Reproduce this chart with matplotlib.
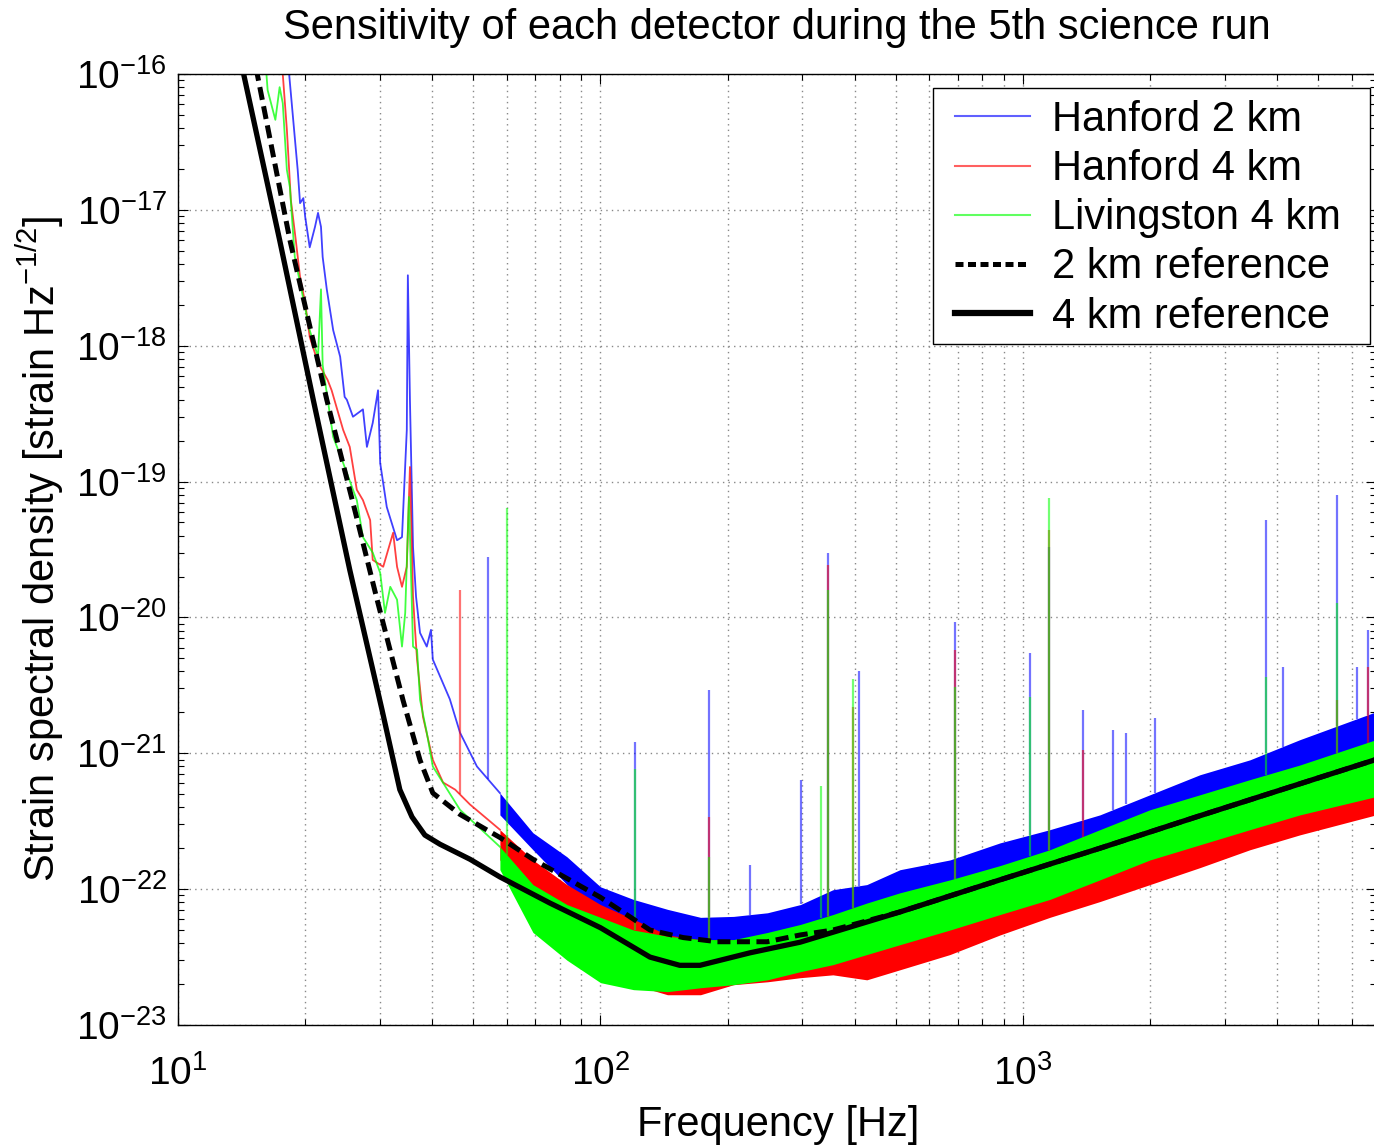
import numpy as np
import matplotlib.pyplot as plt
from matplotlib.lines import Line2D
from matplotlib.patches import Rectangle
from matplotlib.ticker import FixedLocator, LogLocator, NullFormatter

plt.rcParams['font.family'] = ['Liberation Sans', 'DejaVu Sans']
plt.rcParams['mathtext.fontset'] = 'custom'
plt.rcParams['mathtext.rm'] = 'Liberation Sans'
plt.rcParams['mathtext.it'] = 'Liberation Sans:italic'

## S5 strain sensitivity of the three LIGO detectors

# low frequency part of each spectrum (single trace)
h2_f = [18.2, 18.9, 19.2, 19.45, 19.8, 20.0, 20.5, 21.1, 21.45, 21.8, 22.0, 22.5, 23.3, 24.2, 24.8,
        25.1, 25.95, 27.4, 28.0, 28.9, 29.75, 30.1, 31.2, 33.0, 33.9, 34.8, 35.0, 35.4, 36.0, 36.6,
        37.4, 38.8, 39.7, 40.1, 44.0, 46.5, 51.0, 57.8]
h2_asd = [1.27e-16, 3.4e-17, 1.97e-17, 1.12e-17, 1.22e-17, 8.9e-18, 5.3e-18, 7.5e-18, 9.5e-18, 7.5e-18,
          4.5e-18, 2.6e-18, 1.3e-18, 8.3e-19, 4.2e-19, 4.0e-19, 3.0e-19, 3.4e-19, 1.8e-19, 2.7e-19,
          4.7e-19, 1.37e-19, 6.5e-20, 3.7e-20, 3.9e-20, 2.4e-19, 3.3e-18, 4.0e-19, 3.3e-20, 1.42e-20,
          7.7e-21, 6.1e-21, 8.1e-21, 4.9e-21, 2.5e-21, 1.42e-21, 8.0e-22, 5.1e-22]

h1_f = [17.6, 18.1, 18.5, 19.0, 19.45, 20.0, 20.5, 21.45, 22.6, 23.1, 24.6, 25.5, 26.5, 27.4, 28.5,
        28.9, 30.6, 32.3, 33.0, 33.9, 34.8, 35.4, 36.0, 36.4, 36.8, 38.0, 40.1, 42.4, 45.3, 49.1, 57.8]
h1_asd = [1.27e-16, 3.9e-17, 1.18e-17, 6.0e-18, 3.2e-18, 2.07e-18, 1.16e-18, 7.5e-19, 5.6e-19, 4.7e-19,
          2.4e-19, 1.8e-19, 8.7e-20, 7.3e-20, 5.2e-20, 2.65e-20, 2.36e-20, 4.2e-20, 2.36e-20, 1.68e-20,
          2.36e-20, 1.28e-19, 1.42e-20, 8.1e-21, 4.9e-21, 1.86e-21, 8.95e-22, 6.1e-22, 5.4e-22, 4.2e-22,
          2.74e-22]

l1_f = [16.1, 16.3, 17.0, 17.4, 17.7, 18.1, 18.4, 18.7, 18.9, 19.45, 20.5, 21.45, 21.8, 22.0, 23.3,
        24.6, 26.5, 27.4, 28.9, 30.1, 30.9, 31.8, 33.0, 33.9, 34.5, 35.2, 36.0, 36.8, 37.4, 38.8,
        40.1, 46.5, 57.8]
l1_asd = [1.27e-16, 7.6e-17, 4.6e-17, 8.0e-17, 6.1e-17, 1.97e-17, 1.47e-17, 7.1e-18, 4.5e-18, 2.9e-18,
          1.3e-18, 8.3e-19, 2.6e-18, 7.2e-19, 2.13e-19, 1.37e-19, 7.3e-20, 3.9e-20, 3.0e-20, 2.13e-20,
          1.08e-20, 1.68e-20, 1.35e-20, 6.1e-21, 1.08e-20, 7.7e-20, 6.1e-21, 5.8e-21, 2.48e-21, 1.42e-21,
          8.0e-22, 3.84e-22, 2.05e-22]

# above ~58 Hz the spectra are a dense noise band: upper / lower envelope
band_f = [57.8, 69.2, 83.3, 100, 119.7, 144.1, 172.5, 206.5, 248.5, 297.4, 355, 427, 511.6, 671.8,
          882.4, 1158, 1521, 1998, 2624, 3446, 4525, 6850]
h2_hi = [5.1e-22, 2.6e-22, 1.73e-22, 1.04e-22, 8.4e-23, 7.1e-23, 6.2e-23, 6.3e-23, 6.7e-23, 7.7e-23,
         9.9e-23, 1.08e-22, 1.39e-22, 1.64e-22, 2.19e-22, 2.74e-22, 3.52e-22, 4.95e-22, 6.95e-22,
         8.95e-22, 1.26e-21, 2.02e-21]
h2_lo = [3.52e-22, 1.95e-22, 1.08e-22, 6.7e-23, 5.0e-23, 4.4e-23, 4.1e-23, 4.1e-23, 4.4e-23, 4.8e-23,
         5.5e-23, 6.7e-23, 7.7e-23, 9.1e-23, 1.17e-22, 1.51e-22, 1.95e-22, 2.51e-22, 3.24e-22, 4.2e-22,
         5.4e-22, 7.6e-22]
h1_hi = [2.74e-22, 1.64e-22, 1.08e-22, 7.7e-23, 6.0e-23, 4.6e-23, 4.25e-23, 4.25e-23, 4.4e-23, 5.0e-23,
         6.0e-23, 7.1e-23, 8.4e-23, 1.08e-22, 1.39e-22, 1.79e-22, 2.31e-22, 2.98e-22, 3.84e-22,
         4.95e-22, 6.4e-22, 8.95e-22]
h1_lo = [1.64e-22, 7.7e-23, 4.6e-23, 2.69e-23, 1.98e-23, 1.67e-23, 1.67e-23, 1.98e-23, 2.08e-23,
         2.23e-23, 2.34e-23, 2.15e-23, 2.55e-23, 3.3e-23, 4.6e-23, 6.2e-23, 8.1e-23, 1.08e-22, 1.44e-22,
         1.95e-22, 2.51e-22, 3.52e-22]
l1_hi = [2.05e-22, 1.08e-22, 7.7e-23, 6.2e-23, 5.0e-23, 4.5e-23, 4.25e-23, 4.25e-23, 4.8e-23, 5.5e-23,
         6.5e-23, 7.9e-23, 9.4e-23, 1.17e-22, 1.49e-22, 1.95e-22, 2.74e-22, 3.84e-22, 4.95e-22,
         6.4e-22, 8.2e-22, 1.26e-21]
l1_lo = [1.39e-22, 4.8e-23, 3.0e-23, 2.05e-23, 1.82e-23, 1.76e-23, 1.88e-23, 1.98e-23, 2.15e-23,
         2.47e-23, 2.78e-23, 3.3e-23, 3.9e-23, 5.0e-23, 6.5e-23, 8.4e-23, 1.17e-22, 1.64e-22, 2.12e-22,
         2.74e-22, 3.52e-22, 4.8e-22]

# narrow lines (frequency, peak height)
h2_line_f = [54.2, 120.4, 181, 226, 299, 346, 409, 689, 1042, 1152, 1387, 1633, 1753, 2053, 3760,
             4125, 5536, 6173, 6556]
h2_line_pk = [2.8e-20, 1.22e-21, 2.93e-21, 1.51e-22, 6.4e-22, 2.99e-20, 4.0e-21, 9.3e-21, 5.5e-21,
              3.3e-20, 2.09e-21, 1.49e-21, 1.42e-21, 1.82e-21, 5.2e-20, 4.3e-21, 8.0e-20, 4.3e-21, 8.1e-21]
h1_line_f = [46.5, 181, 346, 397, 689, 1152, 1387, 5536, 6556]
h1_line_pk = [1.6e-20, 3.4e-22, 2.44e-20, 2.2e-21, 5.8e-21, 4.4e-20, 1.06e-21, 2.48e-21, 4.3e-21]
l1_line_f = [60.1, 120.4, 181, 332, 346, 397, 689, 1042, 1152, 3760, 5536]
l1_line_pk = [6.4e-20, 7.6e-22, 1.73e-22, 5.7e-22, 1.6e-20, 3.5e-21, 3.1e-21, 2.6e-21, 7.6e-20,
              3.66e-21, 1.28e-20]

# design reference curves
ref2_f = [14.5, 15.4, 18.4, 22.5, 26.2, 29.6, 34.1, 37.4, 40.1, 46.5, 57.8, 69.2, 100, 131, 157, 189,
          248, 297, 355, 512, 882, 1521, 2624, 6850]
ref2_asd = [2.1e-16, 1.0e-16, 6.0e-18, 4.0e-19, 6.2e-20, 1.35e-20, 2.45e-21, 8.9e-22, 5.1e-22, 3.55e-22,
            2.4e-22, 1.66e-22, 8.7e-23, 5.0e-23, 4.4e-23, 4.1e-23, 4.1e-23, 4.6e-23, 5.0e-23, 6.8e-23,
            1.17e-22, 2.0e-22, 3.47e-22, 9.0e-22]
ref4_f = [13.5, 14.3, 17.4, 20.9, 25.5, 30.4, 33.5, 35.8, 38.4, 41.7, 49.1, 57.8, 75.9, 100, 131, 154,
          172, 226, 297, 512, 882, 1521, 2624, 6850]
ref4_asd = [2.1e-16, 1.0e-16, 6.0e-18, 4.0e-19, 2.24e-20, 2.09e-21, 5.4e-22, 3.4e-22, 2.5e-22, 2.14e-22,
            1.66e-22, 1.23e-22, 7.9e-23, 5.2e-23, 3.16e-23, 2.75e-23, 2.75e-23, 3.4e-23, 4.07e-23,
            6.8e-23, 1.17e-22, 2.0e-22, 3.47e-22, 9.0e-22]

x_ticks = [1e1, 1e2, 1e3]
y_ticks = [1e-23, 1e-22, 1e-21, 1e-20, 1e-19, 1e-18, 1e-17, 1e-16]
names = ['Hanford 2 km', 'Hanford 4 km', 'Livingston 4 km', '2 km reference', '4 km reference']

W, H = 1374, 1148
fig = plt.figure(figsize=(W / 100, H / 100), dpi=100)
ax = fig.add_axes([178 / W, 123 / H, 1198 / W, 951 / H])
ax.set_xscale('log')
ax.set_yscale('log')


def draw_detector(lf, lv, hi, lo, pk_f, pk_v, color, z):
    ax.plot(lf, lv, color=color, lw=1.3, alpha=0.75, zorder=z)
    ax.fill_between(band_f, lo, hi, color=color, lw=0, zorder=z)
    # spikes start on the upper envelope of the trace
    tf = np.log10(np.concatenate([lf, band_f]))
    tv = np.log10(np.concatenate([lv, hi]))
    base = 10 ** np.interp(np.log10(pk_f), tf, tv)
    ax.vlines(pk_f, base, pk_v, color=color, lw=1.6, alpha=0.55, zorder=z)


draw_detector(h2_f, h2_asd, h2_hi, h2_lo, h2_line_f, h2_line_pk, '#0000ff', 2.0)
draw_detector(h1_f, h1_asd, h1_hi, h1_lo, h1_line_f, h1_line_pk, '#ff0000', 2.1)
draw_detector(l1_f, l1_asd, l1_hi, l1_lo, l1_line_f, l1_line_pk, '#00ff00', 2.2)

ax.plot(ref4_f, ref4_asd, color='black', lw=3.8, zorder=3)
ax.plot(ref2_f, ref2_asd, color='black', lw=3.6, dashes=(2.6, 1.3), zorder=3.1)

ax.set_xlim(10, 6850)
ax.set_ylim(1e-23, 1e-16)

ax.xaxis.set_major_locator(FixedLocator(x_ticks))
ax.xaxis.set_minor_locator(LogLocator(base=10, subs=np.arange(2, 10), numticks=20))
ax.xaxis.set_minor_formatter(NullFormatter())
ax.yaxis.set_major_locator(FixedLocator(y_ticks))
ax.yaxis.set_minor_locator(LogLocator(base=10, subs=np.arange(2, 10), numticks=20))
ax.yaxis.set_minor_formatter(NullFormatter())

ax.grid(True, which='major', axis='both', color='#888888', ls=(0, (1, 3)), lw=1.0)
ax.grid(True, which='minor', axis='x', color='#888888', ls=(0, (1, 3)), lw=1.0)
ax.tick_params(which='both', direction='in', top=True, right=True, labelsize=28)
ax.tick_params(which='major', length=7, width=0.8)
ax.tick_params(axis='x', which='major', pad=22)
ax.tick_params(axis='y', which='major', pad=8)
ax.tick_params(which='minor', length=4, width=0.8)
for s in ax.spines.values():
    s.set_linewidth(1.0)

# legend box drawn separately so its padding can follow the reference
box = Rectangle((933 / W, 1 - 344 / H), 437 / W, 256 / H, transform=fig.transFigure,
                facecolor='white', edgecolor='black', lw=1.0, zorder=4.9, clip_on=False)
ax.add_patch(box)
handles = [Line2D([], [], color='#6060ff', lw=1.5),
           Line2D([], [], color='#ff6060', lw=1.5),
           Line2D([], [], color='#60ff60', lw=1.5),
           Line2D([], [], color='black', lw=3.6, dashes=(1.6, 0.9)),
           Line2D([], [], color='black', lw=4.5)]
leg = ax.legend(handles, names, loc='upper left', bbox_to_anchor=(955 / W, 1 - 100 / H),
                bbox_transform=fig.transFigure, borderaxespad=0, borderpad=0, frameon=False,
                fontsize=30, handlelength=1.8, labelspacing=0.22, handletextpad=0.53)
leg.set_zorder(5)

fig.text(777 / W, 1 - 28 / H, 'Sensitivity of each detector during the 5th science run',
         ha='center', va='center', fontsize=30)
fig.text(778 / W, 1 - 1125 / H, 'Frequency [Hz]', ha='center', va='center', fontsize=30)
fig.text(40 / W, 1 - 549 / H, 'Strain spectral density [strain Hz$^{-1/2}$]',
         ha='center', va='center', rotation=90, fontsize=30)

plt.savefig('out.png', dpi=100)
